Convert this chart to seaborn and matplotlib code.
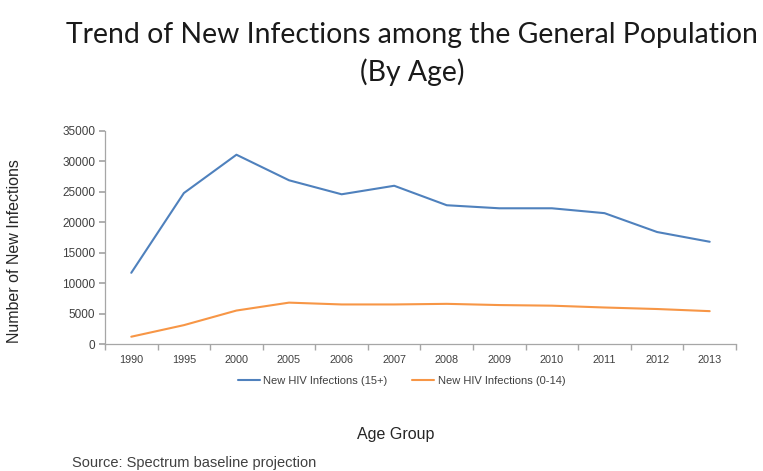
import numpy as np
import pandas as pd
import matplotlib
matplotlib.use("Agg")
import matplotlib.pyplot as plt
import seaborn as sns

years = ["1990", "1995", "2000", "2005", "2006", "2007", "2008", "2009",
         "2010", "2011", "2012", "2013"]
adults_15plus = [11700, 24800, 31100, 26900, 24600, 26000, 22800, 22300,
                 22300, 21500, 18400, 16800]
children_0_14 = [1200, 3100, 5500, 6800, 6500, 6500, 6600, 6400,
                 6300, 6000, 5750, 5400]
series_names = ["New HIV Infections (15+)", "New HIV Infections (0-14)"]
y_ticks = [0, 5000, 10000, 15000, 20000, 25000, 30000, 35000]

pos = np.arange(len(years))
df = pd.concat([
    pd.DataFrame({"pos": pos, "value": adults_15plus, "series": series_names[0]}),
    pd.DataFrame({"pos": pos, "value": children_0_14, "series": series_names[1]}),
])

sns.set_theme(style="white")
plt.rcParams["font.family"] = ["Liberation Sans", "DejaVu Sans"]

fig = plt.figure(figsize=(7.63, 4.71), dpi=100)
ax = fig.add_axes([0.1376, 0.2696, 0.827, 0.4523])

sns.lineplot(data=df, x="pos", y="value", hue="series",
             palette=["#4F81BD", "#F79646"], linewidth=1.5, ax=ax,
             legend=True)

ax.set_xlim(-0.5, len(years) - 0.5)
ax.set_ylim(0, 35000)
ax.set_xticks(pos)
ax.set_xticklabels(years)
ax.set_xticks(np.arange(-0.5, len(years), 1), minor=True)
ax.set_yticks(y_ticks)
ax.set_yticklabels([str(v) for v in y_ticks])

for side in ("top", "right"):
    ax.spines[side].set_visible(False)
for side in ("left", "bottom"):
    ax.spines[side].set_color("#a6a6a6")
    ax.spines[side].set_linewidth(0.9)

ax.tick_params(axis="x", which="major", length=0, labelsize=7.8,
               labelcolor="#404040", pad=8)
ax.tick_params(axis="x", which="minor", length=4, color="#a6a6a6",
               direction="out", bottom=True)
ax.tick_params(axis="y", length=4, color="#a6a6a6", direction="out",
               left=True, labelsize=8.5, labelcolor="#404040", pad=3)

ax.set_xlabel("")
ax.set_ylabel("")

leg = ax.legend(loc="center", bbox_to_anchor=(0.47, -0.174), ncol=2,
                frameon=False, fontsize=8, handlelength=2.0,
                columnspacing=2.2, handletextpad=0.3)
for t in leg.get_texts():
    t.set_color("#404040")

fig.text(396 / 763, 1 - 435 / 471, "Age Group", ha="center", va="center",
         fontsize=11.5, color="#262626")
fig.text(15 / 763, 1 - 251 / 471, "Number of New Infections", ha="center",
         va="center", rotation=90, fontsize=11.5, color="#262626")
fig.text(72 / 763, 1 - 463 / 471, "Source: Spectrum baseline projection",
         ha="left", va="center", fontsize=10.5, color="#404040")

title_font = ["Lato", "DejaVu Sans"]
fig.text(412 / 763, 1 - 35 / 471, "Trend of New Infections among the General Population",
         ha="center", va="center", fontsize=20.4, color="#1a1a1a",
         family=title_font)
fig.text(412 / 763, 1 - 72 / 471, "(By Age)", ha="center", va="center",
         fontsize=20.4, color="#1a1a1a", family=title_font)

fig.savefig("out.png", dpi=100)
